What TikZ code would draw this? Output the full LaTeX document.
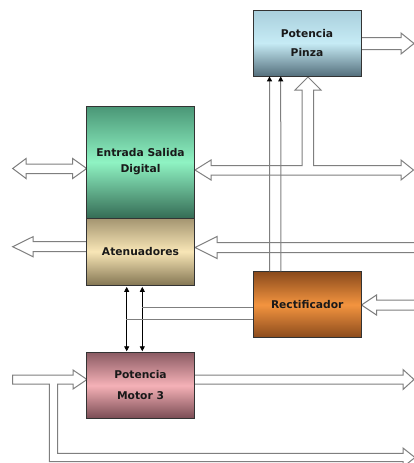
\documentclass[tikz,border=0pt]{standalone}
\usepackage{fontspec}
\setmainfont{DejaVu Sans}
\usetikzlibrary{arrows.meta}

\definecolor{busline}{HTML}{7F7F7F}
\definecolor{pinzaT}{HTML}{A9CFDC}
\definecolor{pinzaM}{HTML}{C6EBF5}
\definecolor{pinzaB}{HTML}{55707D}
\definecolor{esT}{HTML}{4A9676}
\definecolor{esM}{HTML}{8FF3C3}
\definecolor{esB}{HTML}{356C55}
\definecolor{atenT}{HTML}{A39470}
\definecolor{atenM}{HTML}{F8E6B6}
\definecolor{atenB}{HTML}{857754}
\definecolor{rectT}{HTML}{8A4A1C}
\definecolor{rectM}{HTML}{F3943F}
\definecolor{motorT}{HTML}{8C5C64}
\definecolor{motorM}{HTML}{F5B1B7}
\definecolor{motorB}{HTML}{7A4C54}

\begin{document}
\begin{tikzpicture}[x=1pt, y=-1pt,
        blk/.style={draw=black!80, line width=0.8pt, align=center, text=black!90,
            font=\fontsize{10.7}{12}\selectfont\bfseries},
        bus/.style={draw=busline, line width=1pt, fill=white, line join=miter},
        sig/.style={draw=busline, line width=1pt, -{Triangle[length=5pt, width=5pt, black]}},
        ctl/.style={draw=black, line width=0.8pt, {Triangle[length=5pt, width=5pt]}-{Triangle[length=5pt, width=5pt]}},
        wire/.style={draw=busline, line width=1pt}
    ]
        \useasboundingbox (0,0) rectangle (414,463);

        % hollow buses
        \filldraw[bus] (361,37.5) -- (401,37.5) -- (401,33) -- (414,43.5) -- (401,54) -- (401,49.5) -- (361,49.5);
        \filldraw[bus] (12.7,168.5) -- (26,158.5) -- (26,164) -- (72.7,164) -- (72.7,158.5) -- (86.7,168.5)
            -- (72.7,178.5) -- (72.7,173.5) -- (26,173.5) -- (26,178.5) -- cycle;
        \filldraw[bus] (195,170) -- (211,160) -- (211,165.5) -- (302,165.5) -- (302,90) -- (295,90)
            -- (308,77) -- (321,90) -- (313.5,90) -- (313.5,165.5) -- (401,165.5) -- (401,160)
            -- (413.5,170) -- (401,180) -- (401,175) -- (211,175) -- (211,180) -- cycle;
        \filldraw[bus] (87,241.7) -- (33,241.7) -- (33,236.7) -- (12.7,246.7) -- (33,256.7) -- (33,251.7) -- (87,251.7);
        \filldraw[bus] (414,242.7) -- (217,242.7) -- (217,236.5) -- (195,247.5) -- (217,258.5) -- (217,252.7) -- (414,252.7);
        \filldraw[bus] (414,300) -- (376.5,300) -- (376.5,295) -- (361.5,305) -- (376.5,315) -- (376.5,310) -- (414,310);
        \filldraw[bus] (195,375) -- (403,375) -- (403,369.5) -- (414,379.5) -- (403,389.5) -- (403,384) -- (195,384);
        \filldraw[bus] (12.7,375) -- (73,375) -- (73,370) -- (87,379.5) -- (73,389) -- (73,384) -- (57.7,384)
            -- (57.7,453.3) -- (403,453.3) -- (403,448) -- (415,457.5) -- (403,467) -- (403,461.7)
            -- (49.3,461.7) -- (49.3,384) -- (12.7,384) -- cycle;

        % blocks
        \node[blk, minimum width=108pt, minimum height=66pt,
            top color=pinzaT, bottom color=pinzaB, middle color=pinzaM]
            (pinza) at (307,43) {Potencia\\[7pt]Pinza};
        \node[blk, minimum width=107.5pt, minimum height=112pt,
            top color=esT, bottom color=esB, middle color=esM]
            (es) at (140.5,162) {Entrada Salida\\[4pt]Digital};
        \node[blk, minimum width=107.5pt, minimum height=67pt,
            top color=atenT, bottom color=atenB, middle color=atenM]
            (aten) at (140.5,251.5) {Atenuadores};
        \node[blk, minimum width=107.7pt, minimum height=66pt,
            top color=rectT, bottom color=rectT, middle color=rectM]
            (rect) at (307.2,304.7) {Rectificador};
        \node[blk, minimum width=107.5pt, minimum height=65.6pt,
            top color=motorT, bottom color=motorB, middle color=motorM]
            (motor) at (140.5,385.5) {Potencia\\[9pt]Motor 3};

        % signals
        \foreach \dx in {-37.5,-26.3}
        {
            \draw[sig] ([xshift=\dx pt]rect.north) -- ([xshift=\dx pt]pinza.south);
        }
        \foreach \dx in {-13.8,1.8}
        {
            \draw[ctl] ([xshift=\dx pt, yshift=-1.5pt]aten.south) -- ([xshift=\dx pt, yshift=1pt]motor.north);
        }
        \draw[wire] ([yshift=-3pt]rect.west) -- ++(-111,0);
        \draw[wire] ([yshift=-14.3pt]rect.west) -- ++(-126.6,0);
    \end{tikzpicture}
\end{document}
